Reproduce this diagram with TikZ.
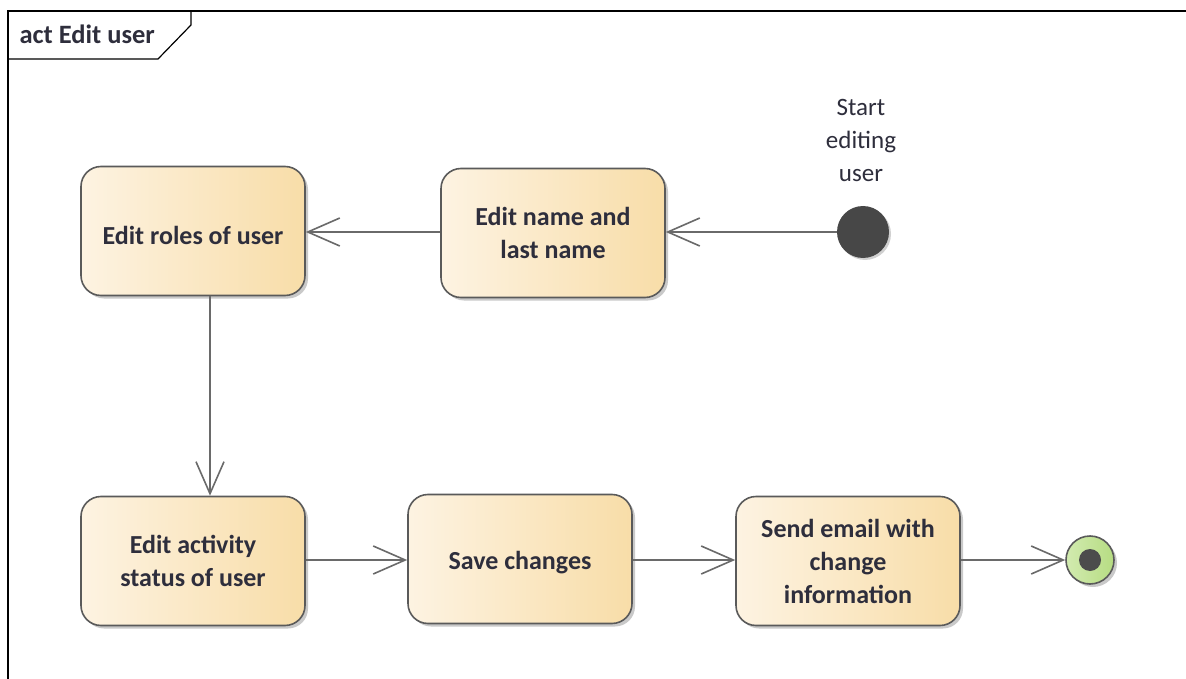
\documentclass[tikz,border=0pt]{standalone}
\usepackage{fontspec}
\setmainfont{Carlito}
\usetikzlibrary{arrows.meta,shadows,calc}
\definecolor{txt}{HTML}{2E2E3C}
\definecolor{bord}{HTML}{5A5A5A}
\definecolor{lnc}{HTML}{6A6A6A}
\definecolor{fl}{HTML}{FDF3E2}
\definecolor{fr}{HTML}{F8DDA8}
\definecolor{gl}{HTML}{D2EBB0}
\definecolor{gr}{HTML}{B6DC82}
\tikzset{
  actbox/.style={draw=bord, line width=1.6pt, rounded corners=20pt,
    minimum width=224pt, minimum height=129pt, shading=axis, left color=fl, right color=fr,
    shading angle=90, align=center, text=txt, font=\fontsize{26}{33}\selectfont\bfseries,
    drop shadow={shadow xshift=3pt, shadow yshift=-3pt, opacity=0.35, fill=black!60}},
  flow/.style={draw=lnc, line width=1.6pt, -{Straight Barb[length=32pt,width=28pt,line width=1.6pt]}},
}
\begin{document}
\begin{tikzpicture}[x=1pt,y=-1pt]
\useasboundingbox (0,0) rectangle (1186,679);
\fill[white] (0,0) rectangle (1186,679);
% frame
\draw[black, line width=1.4pt] (8,690) -- (8,11) -- (1195,11);
\draw[black, line width=1.2pt] (8,59) -- (158,59) -- (191,25) -- (191,11);
\node[anchor=west, text=txt, font=\fontsize{26.5}{30}\selectfont\bfseries] (title) at (16,34) {act Edit user};
% nodes
\node[actbox] (roles) at (193,231) {\raisebox{-4pt}[\height][\depth]{Edit roles of user}};
\node[actbox] (name) at (553,233) {Edit name and\\last name};
\node[circle, fill=black!72, minimum size=52pt, inner sep=0pt,
  drop shadow={shadow xshift=2pt, shadow yshift=-2pt, opacity=0.3, fill=black!60}] (start) at (863,232) {};
\node[align=center, text=txt, font=\fontsize{25}{33}\selectfont] (startlbl) at (861,140) {Start\\editing\\user};
\node[actbox] (act) at (193,561) {Edit activity\\status of user};
\node[actbox] (save) at (520,559) {\raisebox{-4pt}[\height][\depth]{Save changes}};
\node[actbox] (mail) at (848,561) {Send email with\\change\\information};
\node[circle, draw=bord, line width=1.6pt, shading=axis, left color=gl, right color=gr, shading angle=90,
  minimum size=48pt, inner sep=0pt,
  drop shadow={shadow xshift=3pt, shadow yshift=-3pt, opacity=0.35, fill=black!60}] (end) at (1090,560) {};
\node[circle, fill=black!70, minimum size=22pt, inner sep=0pt] (endin) at (end.center) {};
% flows
\draw[flow] (start.west) -- (name.east |- start.west);
\draw[flow] (name.west |- start.west) -- (roles.east |- start.west);
\draw[flow] ([xshift=17pt]roles.south) -- ([xshift=17pt]act.north);
\draw[flow] (act.east |- save.east) ++(0,1) coordinate (a1) (a1) -- (a1 -| save.west);
\draw[flow] ($(save.east)+(0,1)$) -- ($(mail.west |- save.east)+(0,1)$);
\draw[flow] (mail.east |- end.west) -- (end.west);
\end{tikzpicture}
\end{document}
